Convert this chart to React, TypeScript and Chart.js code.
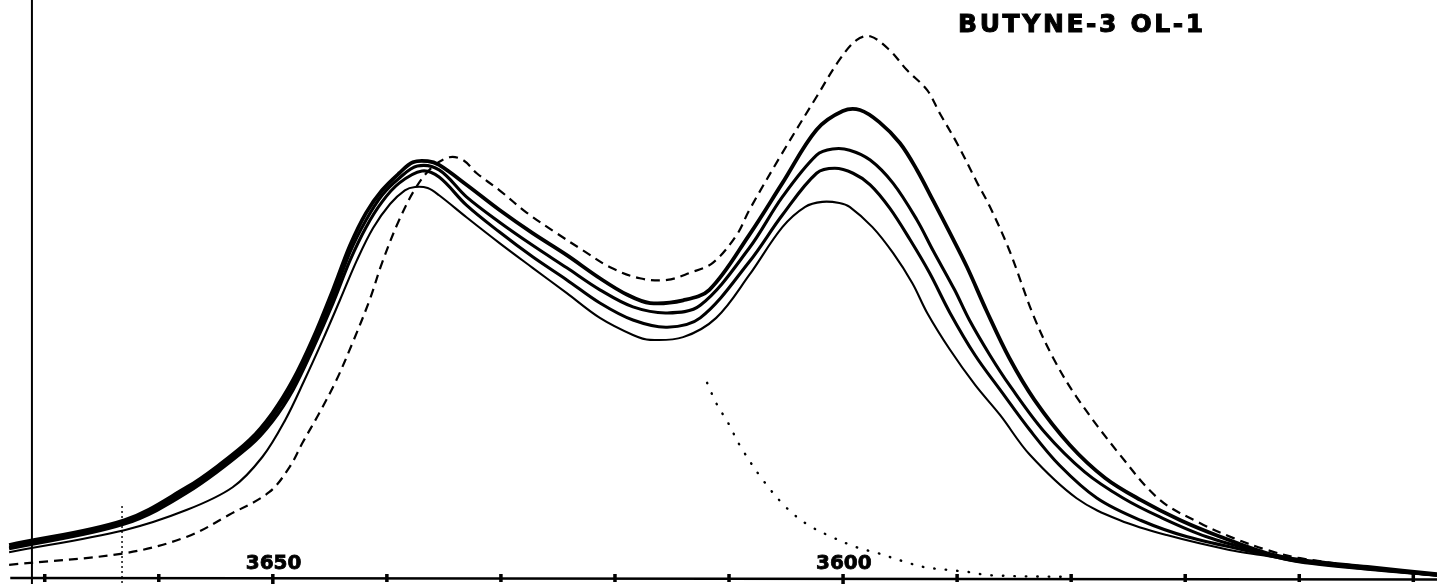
import React, { useEffect, useRef } from "react";
import { Chart, registerables } from "chart.js";

Chart.register(...registerables);

// ---- Data (wavenumber cm-1 / relative absorbance) ----
const dashedWn = [3673.1, 3663.0, 3657.5, 3653.8, 3650.3, 3648.5, 3647.4, 3645.9, 3644.4, 3643.0, 3641.5, 3640.4, 3638.9, 3637.4, 3636.0, 3634.5, 3633.3, 3632.1, 3630.1, 3627.7, 3625.1, 3622.8, 3620.4, 3617.8, 3615.4, 3613.4, 3611.4, 3609.3, 3608.2, 3605.3, 3602.3, 3600.3, 3598.8, 3597.6, 3595.9, 3594.4, 3592.6, 3591.5, 3590.0, 3588.2, 3587.1, 3585.4, 3583.3, 3581.6, 3579.5, 3575.7, 3572.2, 3568.7, 3565.8, 3562.8, 3559.9, 3554.0, 3547.9];
const dashedAbs = [2.4, 4.5, 7.5, 11.5, 15.6, 20.2, 24.5, 30.0, 36.0, 42.7, 50.5, 57.3, 65.1, 71.1, 74.7, 76.5, 76.0, 73.6, 70.5, 66.4, 62.7, 59.6, 56.5, 54.5, 54.2, 55.5, 57.3, 62.4, 66.9, 77.3, 87.5, 94.2, 97.8, 98.5, 96.0, 92.4, 88.7, 84.5, 79.1, 71.8, 67.5, 59.6, 47.8, 40.2, 32.9, 22.4, 14.2, 10.0, 7.3, 5.1, 3.6, 2.0, 0.7];

const s1Wn = [3673.1, 3663.0, 3657.5, 3654.9, 3652.0, 3650.0, 3648.2, 3646.5, 3644.7, 3643.2, 3641.8, 3640.4, 3638.9, 3637.7, 3636.4, 3635.4, 3633.0, 3630.1, 3627.2, 3624.2, 3621.3, 3618.9, 3616.9, 3614.0, 3611.7, 3608.2, 3605.3, 3602.3, 3600.0, 3598.5, 3596.8, 3595.0, 3593.5, 3592.1, 3590.6, 3589.1, 3587.4, 3585.4, 3583.2, 3580.1, 3577.0, 3573.9, 3570.4, 3566.9, 3562.8, 3559.9, 3554.0, 3547.9];
const s1Abs = [6.0, 10.5, 16.5, 20.2, 25.1, 30.0, 36.0, 43.3, 52.4, 60.5, 66.4, 70.5, 73.6, 75.6, 75.8, 75.1, 71.5, 66.9, 62.7, 58.7, 54.5, 51.5, 50.0, 50.5, 52.4, 62.4, 71.8, 81.5, 84.9, 85.1, 82.9, 79.1, 74.2, 68.7, 62.7, 56.5, 48.6, 40.0, 32.4, 24.2, 18.2, 14.2, 10.5, 7.5, 4.5, 3.3, 2.0, 0.7];

const s2Wn = [3673.1, 3663.0, 3657.5, 3652.0, 3650.0, 3648.2, 3646.5, 3644.7, 3643.2, 3641.8, 3640.4, 3638.9, 3637.3, 3635.4, 3633.0, 3630.1, 3627.2, 3624.2, 3621.3, 3618.4, 3615.4, 3612.5, 3608.2, 3605.3, 3602.3, 3600.9, 3599.4, 3597.6, 3595.6, 3593.5, 3592.1, 3590.2, 3588.9, 3587.1, 3585.4, 3582.3, 3578.8, 3575.4, 3572.2, 3568.1, 3562.8, 3559.9, 3554.0, 3547.9];
const s2Abs = [5.6, 10.2, 16.0, 24.5, 29.3, 35.1, 42.4, 51.1, 59.3, 65.1, 69.6, 72.7, 74.9, 74.2, 69.3, 64.7, 60.5, 56.4, 52.4, 49.3, 48.2, 49.6, 60.0, 69.3, 76.9, 78.0, 77.8, 76.0, 71.8, 65.1, 59.6, 52.4, 46.9, 40.5, 35.1, 26.5, 19.3, 14.5, 11.1, 7.5, 4.4, 3.1, 1.8, 0.5];

const s3Wn = [3673.1, 3663.0, 3657.5, 3652.0, 3650.0, 3648.2, 3646.5, 3644.7, 3643.2, 3641.8, 3640.4, 3638.9, 3636.9, 3635.4, 3633.0, 3630.1, 3627.2, 3624.2, 3621.3, 3618.4, 3615.4, 3612.5, 3608.2, 3605.3, 3602.3, 3600.7, 3599.1, 3597.6, 3595.9, 3594.1, 3592.4, 3590.6, 3588.4, 3586.2, 3583.6, 3581.0, 3577.7, 3573.9, 3569.8, 3562.8, 3559.9, 3554.0, 3547.9];
const s3Abs = [5.3, 9.8, 15.5, 24.0, 28.5, 34.2, 41.5, 50.0, 57.8, 63.8, 68.4, 71.8, 74.0, 72.9, 67.8, 62.9, 58.4, 54.2, 50.0, 46.9, 45.6, 47.3, 57.5, 66.0, 73.6, 74.5, 73.6, 71.5, 67.3, 61.5, 55.5, 48.2, 40.5, 34.2, 26.9, 20.5, 14.5, 10.5, 7.5, 4.2, 2.9, 1.6, 0.5];

const s4Wn = [3673.1, 3663.0, 3657.5, 3653.5, 3650.9, 3648.9, 3647.2, 3645.6, 3644.1, 3642.6, 3641.2, 3639.7, 3638.4, 3637.5, 3636.4, 3635.4, 3633.0, 3630.1, 3627.2, 3624.2, 3621.3, 3618.4, 3616.9, 3614.0, 3611.1, 3608.2, 3605.3, 3603.3, 3601.8, 3600.3, 3599.4, 3597.4, 3595.6, 3593.9, 3592.6, 3590.6, 3588.4, 3586.2, 3583.6, 3579.5, 3575.7, 3571.6, 3566.1, 3562.8, 3559.9, 3554.0, 3547.9];
const s4Abs = [4.7, 8.7, 12.4, 16.5, 22.0, 28.7, 36.0, 43.3, 50.5, 57.8, 63.6, 68.0, 70.5, 71.1, 70.9, 69.6, 65.6, 60.9, 56.4, 51.8, 47.3, 44.2, 43.3, 43.8, 47.3, 55.1, 63.8, 67.5, 68.4, 68.2, 67.5, 63.8, 59.1, 53.6, 48.2, 41.5, 35.1, 29.6, 22.4, 14.5, 10.5, 7.8, 5.1, 4.0, 2.9, 1.6, 0.4];

const dottedWn = [3611.9, 3611.1, 3610.0, 3609.0, 3607.0, 3604.9, 3603.0, 3601.0, 3598.8, 3596.9, 3594.8, 3592.9, 3590.9, 3589.0, 3587.1, 3580.4];
const dottedAbs = [35.5, 31.8, 28.0, 24.0, 17.8, 12.7, 9.6, 7.5, 5.6, 4.5, 3.1, 2.0, 1.5, 1.1, 0.5, 0.2];

// ---- Axis definitions ----
const tickWn = [3670, 3660, 3650, 3640, 3630, 3620, 3610, 3600, 3590, 3580, 3570, 3560, 3550];
const tickLabels = [3650, 3600];
const titleText = "BUTYNE-3 OL-1";
const X_MIN = 3547.9;
const X_MAX = 3673.9;
const Y_MIN = -1.09;
const Y_MAX = 105.1;
const baselineStartWn = 3673.0;
const leftAxisWn = 3671.1;
const markerWn = 3663.2;
const titleWn = 3589.9;
const titleAbs = 100.4;

const zip = (xs: number[], ys: number[]) => xs.map((x, i) => ({ x, y: ys[i] }));

const paperPlugin = {
  id: "paperAxes",
  afterDatasetsDraw(chart: any) {
    const { ctx } = chart;
    const xs = chart.scales.x;
    const ys = chart.scales.y;
    const y0 = ys.getPixelForValue(0);
    const top = ys.getPixelForValue(Y_MAX);
    const bottom = ys.getPixelForValue(Y_MIN);
    ctx.save();
    ctx.strokeStyle = "#000";
    ctx.fillStyle = "#000";
    // baseline
    ctx.lineWidth = 2.5;
    ctx.beginPath();
    ctx.moveTo(xs.getPixelForValue(baselineStartWn), y0);
    ctx.lineTo(xs.getPixelForValue(X_MIN), y0 + 1.5);
    ctx.stroke();
    // left vertical axis
    const lx = xs.getPixelForValue(leftAxisWn);
    ctx.lineWidth = 2;
    ctx.beginPath();
    ctx.moveTo(lx, top);
    ctx.lineTo(lx, bottom);
    ctx.stroke();
    // dotted marker line
    const mx = xs.getPixelForValue(markerWn);
    ctx.lineWidth = 1.4;
    ctx.setLineDash([2, 3]);
    ctx.beginPath();
    ctx.moveTo(mx, y0 - 72);
    ctx.lineTo(mx, bottom);
    ctx.stroke();
    ctx.setLineDash([]);
    // ticks
    tickWn.forEach((w) => {
      const px = xs.getPixelForValue(w);
      const long = tickLabels.includes(w);
      ctx.fillRect(px - 1.5, y0 - 4, 3.5, long ? 10 : 8);
    });
    // tick labels (drawn above the axis as on the original paper)
    ctx.font = "bold 20px 'DejaVu Sans'";
    ctx.textAlign = "center";
    ctx.textBaseline = "middle";
    ctx.lineWidth = 0.8;
    tickLabels.forEach((w) => {
      const px = xs.getPixelForValue(w);
      ctx.fillText(String(w), px + 1, y0 - 14);
      ctx.strokeText(String(w), px + 1, y0 - 14);
    });
    // title
    ctx.font = "bold 25px 'DejaVu Sans'";
    ctx.textAlign = "left";
    (ctx as any).letterSpacing = "2.6px";
    ctx.lineWidth = 1;
    const tx = xs.getPixelForValue(titleWn);
    const ty = ys.getPixelForValue(titleAbs);
    ctx.fillText(titleText, tx, ty);
    ctx.strokeText(titleText, tx, ty);
    ctx.restore();
  },
};

export default function App() {
  const ref = useRef<HTMLCanvasElement>(null);
  useEffect(() => {
    document.body.style.margin = "0";
    document.body.style.background = "#fff";
    const base = {
      fill: false,
      pointRadius: 0,
      borderColor: "#000",
      tension: 0.35,
      borderJoinStyle: "round" as const,
    };
    const chart = new Chart(ref.current!, {
      type: "line",
      data: {
        datasets: [
          { ...base, label: "dashed", data: zip(dashedWn, dashedAbs), borderWidth: 2.2, borderDash: [9, 6] },
          { ...base, label: "s1", data: zip(s1Wn, s1Abs), borderWidth: 3.8 },
          { ...base, label: "s2", data: zip(s2Wn, s2Abs), borderWidth: 3.1 },
          { ...base, label: "s3", data: zip(s3Wn, s3Abs), borderWidth: 3.1 },
          { ...base, label: "s4", data: zip(s4Wn, s4Abs), borderWidth: 2.1 },
          {
            ...base,
            label: "component",
            data: zip(dottedWn, dottedAbs),
            borderWidth: 2.4,
            borderDash: [0.5, 11],
            borderCapStyle: "round",
          },
        ],
      },
      options: {
        animation: false,
        responsive: true,
        maintainAspectRatio: false,
        layout: { padding: 0 },
        plugins: { legend: { display: false }, title: { display: false }, tooltip: { enabled: false } },
        scales: {
          x: { type: "linear", reverse: true, min: X_MIN, max: X_MAX, display: false },
          y: { type: "linear", min: Y_MIN, max: Y_MAX, display: false },
        },
      },
      plugins: [paperPlugin],
    });
    return () => chart.destroy();
  }, []);
  return (
    <div style={{ position: "fixed", left: 0, top: 0, width: 1437, height: 584, background: "#fff" }}>
      <canvas ref={ref} />
    </div>
  );
}
